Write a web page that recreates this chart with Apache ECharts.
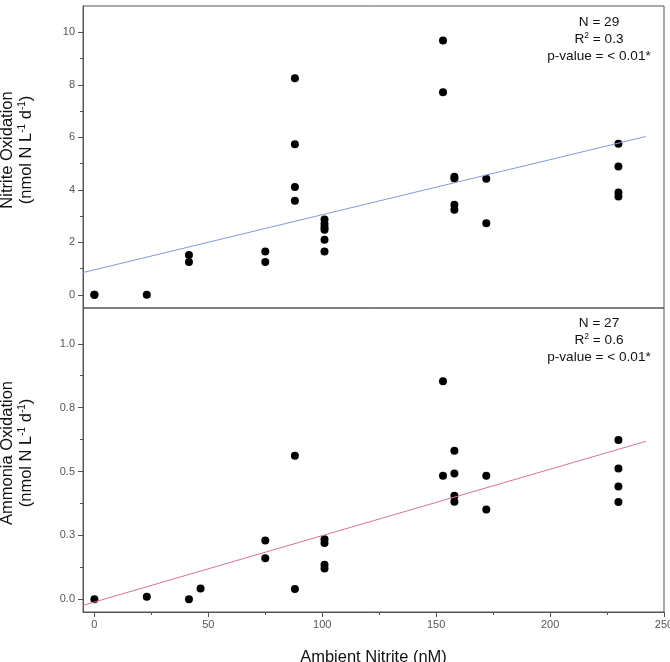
<!DOCTYPE html>
<html>
<head>
<meta charset="utf-8">
<title>Nitrite / Ammonia Oxidation</title>
<script src="https://cdn.jsdelivr.net/npm/echarts@6/dist/echarts.min.js"></script>
<style>
  html, body { margin: 0; padding: 0; background: #fff; }
  #chart { width: 670px; height: 662px; }
</style>
</head>
<body>
<div id="chart"></div>
<script>
// 刻度
var xTicks = [0, 50, 100, 150, 200, 250];
var xMinorTicks = [25, 75, 125, 175, 225];
var nitriteTicks = [0, 2, 4, 6, 8, 10];
var nitriteMinorTicks = [1, 3, 5, 7, 9];
var ammoniaTicks = [0, 0.25, 0.5, 0.75, 1];
var ammoniaTickLabels = ['0.0', '0.3', '0.5', '0.8', '1.0'];
var ammoniaMinorTicks = [0.125, 0.375, 0.625, 0.875];

// 上图：亚硝酸盐氧化
var nitriteX = [0, 0, 23, 41.5, 41.5, 75, 75, 88, 88, 88, 88,
    101, 101, 101, 101, 101, 101, 153, 153, 158, 158, 158, 158,
    172, 172, 230, 230, 230, 230];
var nitriteY = [0, 0, 0, 1.52, 1.25, 1.65, 1.25, 8.25, 5.74, 4.11, 3.58,
    2.87, 2.70, 2.57, 2.48, 2.10, 1.65, 9.69, 7.72, 4.50, 4.43, 3.43, 3.24,
    4.42, 2.73, 5.75, 4.89, 3.90, 3.75];

// 下图：氨氧化
var ammoniaX = [0, 23, 41.5, 46.6, 75, 75, 88, 88, 101, 101, 101, 101,
    153, 153, 158, 158, 158, 158, 172, 172, 230, 230, 230, 230];
var ammoniaY = [0, 0.01, 0, 0.042, 0.23, 0.16, 0.562, 0.04, 0.235, 0.22, 0.135, 0.12,
    0.853, 0.483, 0.581, 0.492, 0.405, 0.382, 0.483, 0.351, 0.623, 0.512, 0.441, 0.381];

// 拟合线
var fitX = [-5, 242];
var nitriteFit = [0.85, 6.03];
var ammoniaFit = [-0.024, 0.618];

function pairs(xs, ys) {
    return xs.map(function (x, i) { return [x, ys[i]]; });
}

var font = '"Liberation Sans", Arial, Helvetica, sans-serif';
var axisColor = '#555';

(function () {
    var myChart = echarts.init(document.getElementById('chart'));

    // 主坐标轴（大刻度）
    function mainY(grid, min, max, ticks, labels) {
        return {
            type: 'value', gridIndex: grid, min: min, max: max, position: 'left',
            axisLine: { show: true, onZero: false, lineStyle: { color: axisColor } },
            axisTick: { show: true, length: 5, customValues: ticks, lineStyle: { color: axisColor } },
            axisLabel: {
                customValues: ticks, margin: 8, fontSize: 11, color: '#555', fontFamily: font,
                formatter: function (v) {
                    if (!labels) return String(v);
                    var i = ticks.indexOf(v);
                    return i >= 0 ? labels[i] : '';
                }
            },
            splitLine: { show: false }
        };
    }
    // 小刻度用的辅助坐标轴
    function minorY(grid, min, max, ticks) {
        return {
            type: 'value', gridIndex: grid, min: min, max: max, position: 'left',
            axisLine: { show: false, onZero: false },
            axisTick: { show: true, length: 3, customValues: ticks, lineStyle: { color: axisColor } },
            axisLabel: { show: false },
            splitLine: { show: false }
        };
    }

    // 纵轴标题（带上标）
    function yTitle(first, y) {
        return {
            type: 'text', x: 17, y: y, rotation: Math.PI / 2,
            style: {
                text: '{t|' + first + '}\n{t|(nmol N L}{s|-1}{t| d}{s|-1}{t|)}',
                align: 'center', verticalAlign: 'middle', fill: '#111',
                rich: {
                    t: { fontSize: 16.5, lineHeight: 19, fontFamily: font, fill: '#111' },
                    s: { fontSize: 10, lineHeight: 12, fontFamily: font, fill: '#111', verticalAlign: 'top' }
                }
            }
        };
    }
    // 右上角统计信息
    function stats(n, r2, y) {
        return {
            type: 'text', x: 599, y: y,
            style: {
                text: '{n|N = ' + n + '}\n{n|R}{s|2}{n| = ' + r2 + '}\n{n|p-value = < 0.01*}',
                align: 'center', verticalAlign: 'top',
                rich: {
                    n: { fontSize: 13.6, lineHeight: 17, fontFamily: font, fill: '#111' },
                    s: { fontSize: 8.5, lineHeight: 11, fontFamily: font, fill: '#111', verticalAlign: 'top' }
                }
            }
        };
    }

    var gridBase = { left: 83, width: 581, show: true, borderColor: axisColor, borderWidth: 1, outerBoundsMode: 'none', containLabel: false };

    var option = {
        animation: false,
        grid: [
            Object.assign({ top: 6, height: 302 }, gridBase),
            Object.assign({ top: 308, height: 304 }, gridBase)
        ],
        xAxis: [
            {
                type: 'value', gridIndex: 0, min: -5, max: 250, position: 'bottom',
                axisLine: { show: false, onZero: false }, axisTick: { show: false },
                axisLabel: { show: false }, splitLine: { show: false }
            },
            {
                type: 'value', gridIndex: 1, min: -5, max: 250, position: 'bottom',
                axisLine: { show: true, onZero: false, lineStyle: { color: axisColor } },
                axisTick: { show: true, length: 5, customValues: xTicks, lineStyle: { color: axisColor } },
                axisLabel: { customValues: xTicks, margin: 7, fontSize: 11, color: '#555', fontFamily: font },
                splitLine: { show: false },
                name: 'Ambient Nitrite (nM)',
                nameLocation: 'middle',
                nameGap: 37,
                nameTextStyle: { fontSize: 16.5, color: '#111', fontFamily: font }
            },
            {
                type: 'value', gridIndex: 1, min: -5, max: 250, position: 'bottom',
                axisLine: { show: false, onZero: false },
                axisTick: { show: true, length: 3, customValues: xMinorTicks, lineStyle: { color: axisColor } },
                axisLabel: { show: false }, splitLine: { show: false }
            }
        ],
        yAxis: [
            mainY(0, -0.5, 11, nitriteTicks),
            minorY(0, -0.5, 11, nitriteMinorTicks),
            mainY(1, -0.05, 1.14, ammoniaTicks, ammoniaTickLabels),
            minorY(1, -0.05, 1.14, ammoniaMinorTicks)
        ],
        graphic: [
            yTitle('Nitrite Oxidation', 150),
            yTitle('Ammonia Oxidation', 453),
            stats(29, '0.3', 14),
            stats(27, '0.6', 315)
        ],
        series: [
            {
                type: 'line', xAxisIndex: 0, yAxisIndex: 0,
                data: pairs(fitX, nitriteFit), symbol: 'none', silent: true,
                lineStyle: { color: '#7f9ae0', width: 1 }
            },
            {
                type: 'scatter', xAxisIndex: 0, yAxisIndex: 0,
                data: pairs(nitriteX, nitriteY), symbolSize: 8,
                itemStyle: { color: '#000', opacity: 1 }
            },
            {
                type: 'line', xAxisIndex: 1, yAxisIndex: 2,
                data: pairs(fitX, ammoniaFit), symbol: 'none', silent: true,
                lineStyle: { color: '#d9728a', width: 1 }
            },
            {
                type: 'scatter', xAxisIndex: 1, yAxisIndex: 2,
                data: pairs(ammoniaX, ammoniaY), symbolSize: 8,
                itemStyle: { color: '#000', opacity: 1 }
            }
        ]
    };
    myChart.setOption(option);
    window.addEventListener('resize', function () {
        myChart.resize();
    });
})();
</script>
</body>
</html>
